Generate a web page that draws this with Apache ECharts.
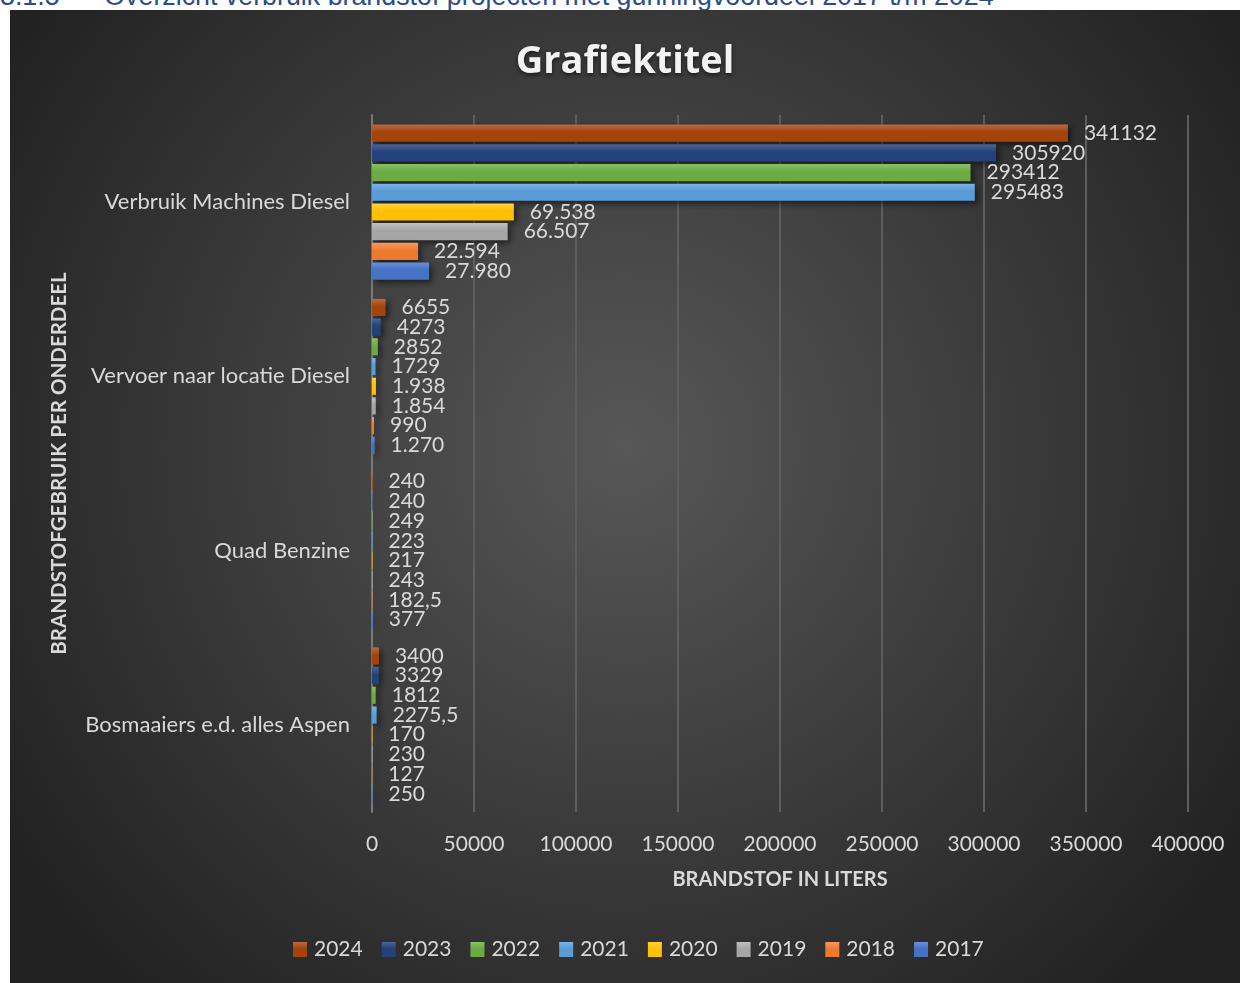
<!DOCTYPE html>
<html>
<head>
<meta charset="utf-8">
<script src="https://cdn.jsdelivr.net/npm/echarts@6/dist/echarts.min.js"></script>
<style>
  html, body { margin: 0; padding: 0; background: #ffffff; width: 1242px; height: 983px; overflow: hidden; }
  .heading {
    position: absolute; left: 0; top: -19px; white-space: pre;
    font-family: "Liberation Sans", Arial, sans-serif; font-size: 26.8px; color: #2b4c8c;
  }
  #chart { position: absolute; left: 10px; top: 10px; width: 1230px; height: 973px; }
</style>
</head>
<body>
<div class="heading">3.1.5      Overzicht verbruik brandstof projecten met gunningvoordeel 2017 t/m 2024</div>
<div id="chart"></div>
<script>
// categorieen (van boven naar beneden)
const categories = ['Verbruik Machines Diesel', 'Vervoer naar locatie Diesel', 'Quad Benzine', 'Bosmaaiers e.d. alles Aspen']
const years = ['2024', '2023', '2022', '2021', '2020', '2019', '2018', '2017']

// waarden per jaar
const v2024 = [341132, 6655, 240, 3400]
const v2023 = [305920, 4273, 240, 3329]
const v2022 = [293412, 2852, 249, 1812]
const v2021 = [295483, 1729, 223, 2275.5]
const v2020 = [69538, 1938, 217, 170]
const v2019 = [66507, 1854, 243, 230]
const v2018 = [22594, 990, 182.5, 127]
const v2017 = [27980, 1270, 377, 250]

// labels zoals in Excel weergegeven
const l2024 = ['341132', '6655', '240', '3400']
const l2023 = ['305920', '4273', '240', '3329']
const l2022 = ['293412', '2852', '249', '1812']
const l2021 = ['295483', '1729', '223', '2275,5']
const l2020 = ['69.538', '1.938', '217', '170']
const l2019 = ['66.507', '1.854', '243', '230']
const l2018 = ['22.594', '990', '182,5', '127']
const l2017 = ['27.980', '1.270', '377', '250']

const xTicks = [0, 50000, 100000, 150000, 200000, 250000, 300000, 350000, 400000]

const values = [v2024, v2023, v2022, v2021, v2020, v2019, v2018, v2017]
const labels = [l2024, l2023, l2022, l2021, l2020, l2019, l2018, l2017]
const colors = ['#a3440a', '#24427a', '#6cab42', '#5a9bd8', '#ffc000', '#a5a5a5', '#ee7a30', '#4472c4']
const lights = ['#b96a45', '#4a6497', '#88c06a', '#7ab2e6', '#ffd040', '#c0c0c0', '#f59a60', '#6a90d8']

const txt = '#d9d9d9'
const font = 'Lato, "Open Sans", sans-serif'

const chart = echarts.init(document.getElementById('chart'))

const series = years.map((y, i) => ({
    name: y,
    type: 'bar',
    barCategoryGap: '11%',
    barGap: '15%',
    data: values[i],
    itemStyle: {
        color: {
            type: 'linear', x: 0, y: 0, x2: 0, y2: 1,
            colorStops: [
                { offset: 0, color: lights[i] },
                { offset: 0.45, color: colors[i] },
                { offset: 1, color: colors[i] }
            ]
        },
        shadowColor: 'rgba(0,0,0,0.55)',
        shadowBlur: 6,
        shadowOffsetX: 3,
        shadowOffsetY: 3
    },
    label: {
        show: true,
        position: 'right',
        distance: 16,
        color: txt,
        fontSize: 21,
        fontFamily: font,
        formatter: p => labels[i][p.dataIndex]
    }
}))

const option = {
    backgroundColor: {
        type: 'radial', x: 0.5, y: 0.45, r: 0.75,
        colorStops: [
            { offset: 0, color: '#575757' },
            { offset: 1, color: '#222222' }
        ]
    },
    textStyle: { fontFamily: font },
    title: {
        text: 'Graf\u200Ciektitel',
        left: 'center',
        top: 28,
        textStyle: {
            color: '#f2f2f2',
            fontSize: 38,
            fontWeight: 'bold',
            fontFamily: '"Open Sans", Lato, sans-serif',
            textShadowColor: 'rgba(0,0,0,0.6)',
            textShadowBlur: 4,
            textShadowOffsetY: 2
        }
    },
    legend: {
        data: years,
        bottom: 18,
        left: 278,
        icon: 'rect',
        itemWidth: 14,
        itemHeight: 15,
        itemGap: 19,
        textStyle: { color: txt, fontSize: 21, fontFamily: font, padding: [0, 0, 0, 2] }
    },
    grid: { left: 362, right: 52, top: 105, bottom: 171 },
    xAxis: {
        type: 'value',
        min: xTicks[0],
        max: xTicks[xTicks.length - 1],
        interval: 50000,
        name: 'BRANDSTOF IN LITERS',
        nameLocation: 'middle',
        nameGap: 58,
        nameTextStyle: { color: txt, fontSize: 20, fontWeight: 'bold', fontFamily: font },
        axisLine: { show: false },
        axisTick: { show: false },
        axisLabel: { color: txt, fontSize: 21, margin: 22, fontFamily: font, formatter: v => String(v) },
        splitLine: { lineStyle: { color: '#5e5e5e', width: 2 } }
    },
    yAxis: {
        type: 'category',
        inverse: true,
        data: categories,
        name: 'BRANDSTOFGEBRUIK PER ONDERDEEL',
        nameLocation: 'middle',
        nameRotate: 90,
        nameGap: 302,
        nameTextStyle: { color: txt, fontSize: 20.5, fontWeight: 'bold', fontFamily: font },
        axisLine: { show: true, lineStyle: { color: '#7a7a7a', width: 2 } },
        axisTick: { show: false },
        axisLabel: { color: txt, fontSize: 22, margin: 22, fontFamily: font }
    },
    series: series
}

chart.setOption(option)
</script>
</body>
</html>
